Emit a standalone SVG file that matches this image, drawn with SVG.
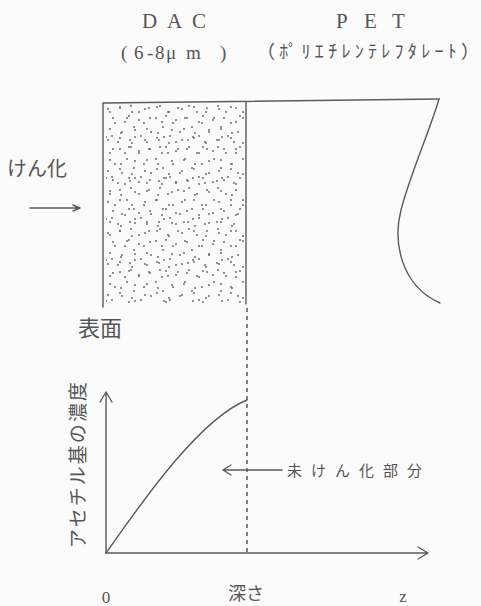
<svg xmlns="http://www.w3.org/2000/svg" width="481" height="606" viewBox="0 0 481 606">
<style>
.ln{fill:none;stroke:#5a5a5a;stroke-width:1.4;stroke-linecap:round;stroke-linejoin:round}
.dash{fill:none;stroke:#5a5a5a;stroke-width:1.5;stroke-dasharray:4 4}
.ser{font-family:"Liberation Serif",serif;fill:#555}
.jp{font-family:"Noto Sans CJK JP","Noto Sans CJK SC",sans-serif;fill:#555}
</style>
<defs>
<pattern id="dA" patternUnits="userSpaceOnUse" x="105" y="105" width="37" height="31">
<g fill="#606060">
<circle cx="3" cy="4" r="0.9"/><circle cx="15" cy="2" r="0.9"/><circle cx="27" cy="7" r="0.9"/><circle cx="34" cy="15" r="0.9"/><circle cx="8" cy="13" r="0.9"/><circle cx="20" cy="17" r="0.9"/><circle cx="30" cy="25" r="0.9"/><circle cx="5" cy="24" r="0.9"/><circle cx="16" cy="28" r="0.9"/><circle cx="24" cy="11" r="0.9"/>
</g>
</pattern>
<pattern id="dB" patternUnits="userSpaceOnUse" x="108" y="103" width="29" height="41">
<g fill="#606060">
<circle cx="2" cy="9" r="0.9"/><circle cx="12" cy="5" r="0.9"/><circle cx="23" cy="3" r="0.9"/><circle cx="7" cy="20" r="0.9"/><circle cx="19" cy="15" r="0.9"/><circle cx="26" cy="24" r="0.9"/><circle cx="4" cy="33" r="0.9"/><circle cx="14" cy="29" r="0.9"/><circle cx="22" cy="37" r="0.9"/><circle cx="10" cy="39" r="0.9"/><circle cx="27" cy="34" r="0.9"/>
</g>
</pattern>
</defs>
<rect width="481" height="606" fill="#fbfbfb"/>

<g id="label-dac">
<text class="ser" font-size="21" x="142 167 192" y="28">DAC</text>
<text class="ser" font-size="19" x="121 134 147 155 166 186 220" y="59">(6-8μm)</text>
</g>
<g id="label-pet">
<text class="ser" font-size="21" x="336 364 392" y="28">PET</text>
<text class="jp" font-size="18" x="257" y="58" textLength="222" lengthAdjust="spacing">（ﾎﾟﾘｴﾁﾚﾝﾃﾚﾌﾀﾚｰﾄ）</text>
</g>

<g id="film">
<rect x="106" y="105" width="138" height="198" fill="url(#dA)"/>
<rect x="106" y="105" width="138" height="198" fill="url(#dB)"/>
<path class="ln" d="M103,307 L103,103 L439,99"/>
<path class="ln" d="M246,102 L246,304"/>
<path class="ln" d="M439,99 C430,130 410,175 401,210 C393,241 400,285 440,303"/>
</g>

<g id="label-saponification">
<text class="jp" font-size="20" x="7" y="176">けん化</text>
</g>

<g id="label-surface">
<text class="jp" font-size="22" x="78" y="336">表面</text>
</g>

<g id="graph">
<path class="ln" d="M106,553 L106,392 M100,402 L106,392 L112,402"/>
<path class="ln" d="M106,553 L428,553 M418,547 L428,553 L418,559"/>
<path class="ln" d="M106,553 C136,511 197,420 247,400"/>
<text class="jp" font-size="19" x="76" y="465" text-anchor="middle" dominant-baseline="central" textLength="166" lengthAdjust="spacing" transform="rotate(-90 76 465)">アセチル基の濃度</text>
<text class="ser" font-size="17" x="106" y="603" text-anchor="middle">0</text>
<text class="jp" font-size="18" x="246" y="600" text-anchor="middle">深さ</text>
<text class="ser" font-size="17" x="403" y="602" text-anchor="middle">z</text>
</g>

<g id="label-unsaponified">
<text class="jp" font-size="15" x="287" y="476" textLength="135" lengthAdjust="spacing">未けん化部分</text>
</g>

<g id="connectors">
<path class="dash" d="M247,308 L247,553"/>
<path class="ln" d="M30,208 L80,208 M73,205 L80,208 L73,211"/>
<path class="ln" d="M282,470 L223,470 M231,465 L223,470 L231,475"/>
</g>
</svg>
